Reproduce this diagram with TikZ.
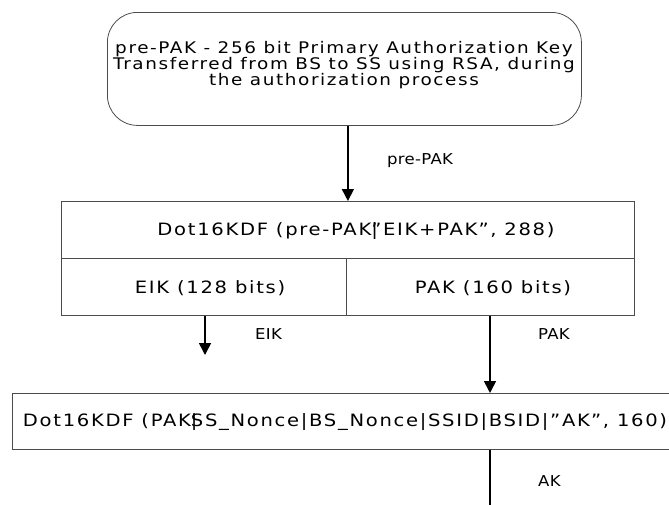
\documentclass[tikz,border=0pt]{standalone}
\usepackage{fontspec}
\setmainfont{DejaVu Sans}
\usetikzlibrary{arrows.meta}
\begin{document}
\begin{tikzpicture}[x=1pt,y=-1pt,
  box/.style={draw=black!70, line width=0.8pt},
  arr/.style={-{Triangle[length=12pt,width=12pt]}, line width=1.6pt},
  txt/.style={font=\fontsize{17}{16}\selectfont\addfontfeature{FakeStretch=1.15,LetterSpace=10}, inner sep=0pt},
  toptxt/.style={font=\fontsize{16}{15.8}\selectfont\addfontfeature{FakeStretch=1.15,LetterSpace=10}, inner sep=0pt},
  lbl/.style={font=\fontsize{15}{15}\selectfont\addfontfeature{FakeStretch=1.1,LetterSpace=2}, inner sep=0pt, anchor=west}]
\clip (0,0) rectangle (669,504);
\useasboundingbox (0,0) rectangle (669,504);
% top rounded box
\node[box, rounded corners=30pt, minimum width=474pt, minimum height=113pt, anchor=north west] (top) at (107,12) {};
\node[toptxt, align=center] (toptext) at (344,65) {pre-PAK - 256 bit Primary Authorization Key\\Transferred from BS to SS using RSA, during\\the authorization process};
% KDF box
\node[box, minimum width=573pt, minimum height=57pt, anchor=north west] (kdf) at (61,201) {};
\node[txt] (kdftext) at (356,231) {Dot16KDF (pre-PAK\rlap{|}”EIK+PAK”, 288)};
\node[box, minimum width=285pt, minimum height=57pt, anchor=north west] (eik) at (61,258) {};
\node[box, minimum width=288pt, minimum height=57pt, anchor=north west] (pak) at (346,258) {};
\node[txt] (eiktext) at (210,288) {EIK (128 bits)};
\node[txt] (paktext) at (493,288) {PAK (160 bits)};
% bottom box
\node[box, minimum width=700pt, minimum height=56pt, anchor=north west] (ak) at (12,393) {};
\node[txt] (aktext) at (345,422) {Dot16KDF (PAK\rlap{|}SS\_Nonce|BS\_Nonce|SSID|BSID|”AK”, 160)};
% arrows
\coordinate (eikx) at (205,0);
\coordinate (eikend) at (205,355);
\coordinate (pakx) at (490,0);
\coordinate (akend) at (490,510);
\draw[arr] (top.south -| kdf.north) -- (kdf.north);
\draw[arr] (eik.south -| eikx) -- (eikend);
\draw[arr] (pak.south -| pakx) -- (ak.north -| pakx);
\draw[line width=1.6pt] (ak.south -| pakx) -- (akend);
% labels
\node[lbl] (lpre) at (387,161) {pre-PAK};
\node[lbl] (leik) at (255,334) {EIK};
\node[lbl] (lpak) at (538,334) {PAK};
\node[lbl] (lak) at (538,481) {AK};
\end{tikzpicture}
\end{document}
